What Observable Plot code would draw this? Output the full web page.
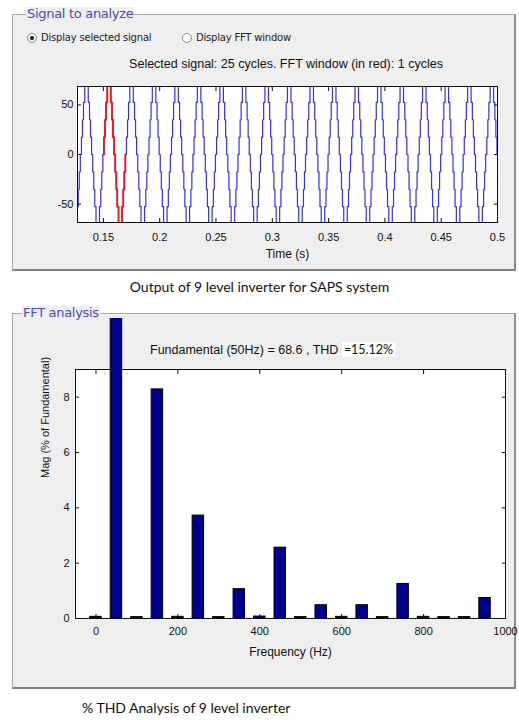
<!DOCTYPE html>
<html>
<head>
<meta charset="utf-8">
<script src="https://cdn.jsdelivr.net/npm/d3@7"></script>
<script src="https://cdn.jsdelivr.net/npm/@observablehq/plot@0.6"></script>
<style>
  html, body { margin: 0; padding: 0; background: #fff; }
  #root { position: relative; width: 519px; height: 720px; overflow: hidden; font-family: "Liberation Sans", Arial, sans-serif; color: #111; }
  .panel { position: absolute; background: #efefef; border-left: 1px solid #a8a8a8; border-top: 1px solid #a8a8a8; border-right: 2px solid #8c8c8c; border-bottom: 2px solid #808080; box-sizing: border-box; }
  .ptitle { position: absolute; background: #efefef; color: #4a4ac4; font-size: 13px; line-height: 14px; padding: 0 1px; font-family: "DejaVu Sans", sans-serif; letter-spacing: -0.3px; }
  .radio { position: absolute; width: 10px; height: 10px; border-radius: 50%; border: 1px solid #8a8a8a; background: #fff; box-sizing: border-box; }
  .radio.on::after { content: ""; position: absolute; left: 2px; top: 2px; width: 4px; height: 4px; border-radius: 50%; background: #111; }
  .rlabel { position: absolute; font-size: 10px; line-height: 12px; color: #222; font-family: "DejaVu Sans", sans-serif; letter-spacing: -0.2px; }
  .txt { position: absolute; white-space: nowrap; }
  .cap { position: absolute; white-space: nowrap; font-family: Lato, "Open Sans", sans-serif; font-size: 14px; color: #111; }
  .plotwrap { position: absolute; left: 0; overflow: hidden; }
</style>
</head>
<body>
<div id="root">
  <div class="panel" style="left:12px; top:14px; width:504px; height:257px;"></div>
  <div class="ptitle" style="left:26px; top:7px;">Signal to analyze</div>
  <div class="radio on" style="left:27px; top:33px;"></div>
  <div class="rlabel" style="left:41px; top:32px;">Display selected signal</div>
  <div class="radio" style="left:182px; top:33px;"></div>
  <div class="rlabel" style="left:196px; top:32px;">Display FFT window</div>
  <div class="txt" id="sub1" style="left:0; width:572px; text-align:center; top:57px; font-size:12.5px;"></div>

  <div id="plot1" class="plotwrap" style="top:76px; width:519px; height:194px;"></div>

  <div class="cap" id="cap1" style="left:0; width:519px; text-align:center; top:278px;"></div>

  <div class="panel" style="left:12px; top:313px; width:504px; height:376px;"></div>
  <div class="ptitle" style="left:22px; top:306px;">FFT analysis</div>

  <div id="plot2" class="plotwrap" style="top:318px; width:519px; height:352px;"></div>

  <div class="txt" style="left:150px; top:342px; font-size:12.5px;"><span id="fundText"></span><span id="thdText" style="font-family: Lato, 'Open Sans', sans-serif; font-size:12.5px; background:#fff; padding:0 2px;"></span></div>

  <div class="cap" id="cap2" style="left:82px; top:699px;"></div>
</div>
<script>
// ---------- Data: time signal ----------
const signalTitle = "Selected signal: 25 cycles. FFT window (in red): 1 cycles";
const period = 0.02; // 50 Hz
const cycleStarts = [0.11, 0.13, 0.15, 0.17, 0.19, 0.21, 0.23, 0.25, 0.27, 0.29,
                     0.31, 0.33, 0.35, 0.37, 0.39, 0.41, 0.43, 0.45, 0.47, 0.49];
// one cycle of the 9-level staircase: switching phase (deg) and level
const stepDeg   = [0, 9, 26, 42, 62, 118, 138, 154, 171, 189, 206, 222, 242, 298, 318, 334, 351];
const stepLevel = [0, 17.5, 35, 52.5, 70, 52.5, 35, 17.5, 0, -17.5, -35, -52.5, -70, -52.5, -35, -17.5, 0];
const fftWindow = [0.15, 0.17];
const timeDomain = [0.127, 0.5];
const ampDomain = [-68.5, 68.5];
const timeTicks = [0.15, 0.2, 0.25, 0.3, 0.35, 0.4, 0.45, 0.5];
const timeTickLabels = ["0.15", "0.2", "0.25", "0.3", "0.35", "0.4", "0.45", "0.5"];
const ampTicks = [-50, 0, 50];
const ampTickLabels = ["-50", "0", "50"];

// ---------- Data: FFT ----------
const freqs = [0, 50, 100, 150, 200, 250, 300, 350, 400, 450, 500, 550, 600, 650, 700, 750, 800, 850, 900, 950];
const mags  = [0.06, 100, 0.05, 8.28, 0.06, 3.72, 0.05, 1.06, 0.07, 2.56, 0.05, 0.48, 0.06, 0.48, 0.05, 1.25, 0.06, 0.05, 0.05, 0.74];
const fftTitle = "Fundamental (50Hz) = 68.6 , THD ";
const thdLabel = "=15.12%";
const freqTicks = [0, 200, 400, 600, 800, 1000];
const freqTickLabels = ["0", "200", "400", "600", "800", "1000"];
const magTicks = [0, 2, 4, 6, 8];
const magTickLabels = ["0", "2", "4", "6", "8"];

const caption1 = "Output of 9 level inverter for SAPS system";
const caption2 = "% THD Analysis of 9 level inverter";

document.getElementById("sub1").textContent = signalTitle;
document.getElementById("fundText").textContent = fftTitle;
document.getElementById("thdText").textContent = thdLabel;
document.getElementById("cap1").textContent = caption1;
document.getElementById("cap2").textContent = caption2;

// build staircase points
const signal = [];
for (const c of cycleStarts) {
  stepDeg.forEach((deg, i) => signal.push({t: c + deg / 360 * period, v: stepLevel[i]}));
}
signal.push({t: cycleStarts[cycleStarts.length - 1] + period, v: 0});
const windowSig = signal.filter(d => d.t >= fftWindow[0] - 1e-9 && d.t < fftWindow[1] - 1e-9);
windowSig.push({t: fftWindow[1], v: 0});

const fmtMap = (vals, labels) => { const m = new Map(vals.map((v, i) => [v, labels[i]])); return d => m.get(d) ?? ""; };
const blank = () => "";
const axisFont = {fontFamily: "'Liberation Sans', Arial, sans-serif", fontSize: "11px"};

const plot1 = Plot.plot({
  width: 519, height: 194,
  marginTop: 10, marginLeft: 77, marginRight: 22, marginBottom: 48,
  style: {background: "transparent", ...axisFont, color: "#111"},
  x: {domain: timeDomain, label: null},
  y: {domain: ampDomain, label: null},
  marks: [
    Plot.frame({fill: "white", stroke: null}),
    Plot.line(signal, {x: "t", y: "v", curve: "step-after", stroke: "#2f2fff", strokeWidth: 1.2, clip: true}),
    Plot.line(windowSig, {x: "t", y: "v", curve: "step-after", stroke: "#ff1010", strokeWidth: 1.8, clip: true}),
    Plot.frame({stroke: "#111", strokeWidth: 1}),
    Plot.axisX(timeTicks, {anchor: "bottom", tickSize: -4, tickFormat: blank, label: null}),
    Plot.axisX(timeTicks, {anchor: "top", tickSize: -4, tickFormat: blank, label: null}),
    Plot.axisY(ampTicks, {anchor: "left", tickSize: -4, tickFormat: blank, label: null}),
    Plot.axisY(ampTicks, {anchor: "right", tickSize: -4, tickFormat: blank, label: null}),
    Plot.axisX(timeTicks, {anchor: "bottom", tickSize: 0, tickPadding: 11, tickFormat: fmtMap(timeTicks, timeTickLabels), label: null}),
    Plot.axisY(ampTicks, {anchor: "left", tickSize: 0, tickPadding: 4, tickFormat: fmtMap(ampTicks, ampTickLabels), label: null}),
    Plot.text(["Time (s)"], {frameAnchor: "bottom", dy: 35, text: d => d, fontSize: 12})
  ]
});
document.getElementById("plot1").appendChild(plot1);

const fft = freqs.map((f, i) => ({f, mag: mags[i]}));
const barHalf = 14;
const plot2 = Plot.plot({
  width: 519, height: 350,
  marginTop: 51, marginLeft: 75, marginRight: 14, marginBottom: 50,
  style: {background: "transparent", ...axisFont, color: "#111"},
  x: {domain: [-50, 1000], label: null},
  y: {domain: [0, 9], label: null},
  marks: [
    Plot.frame({fill: "white", stroke: null}),
    Plot.rectY(fft, {x1: d => d.f - barHalf, x2: d => d.f + barHalf, y1: 0, y2: "mag", fill: "#00008f", stroke: "#000", strokeWidth: 1}),
    Plot.frame({stroke: "#111", strokeWidth: 1}),
    Plot.axisX(freqTicks, {anchor: "bottom", tickSize: -4, tickFormat: blank, label: null}),
    Plot.axisX(freqTicks, {anchor: "top", tickSize: -4, tickFormat: blank, label: null}),
    Plot.axisY(magTicks, {anchor: "left", tickSize: -4, tickFormat: blank, label: null}),
    Plot.axisY(magTicks, {anchor: "right", tickSize: -4, tickFormat: blank, label: null}),
    Plot.axisX(freqTicks, {anchor: "bottom", tickSize: 0, tickPadding: 9, tickFormat: fmtMap(freqTicks, freqTickLabels), label: null}),
    Plot.axisY(magTicks, {anchor: "left", tickSize: 0, tickPadding: 6, tickFormat: fmtMap(magTicks, magTickLabels), label: null}),
    Plot.text(["Frequency (Hz)"], {frameAnchor: "bottom", dy: 37, text: d => d, fontSize: 12}),
    Plot.text(["Mag (% of Fundamental)"], {frameAnchor: "left", dx: -30, dy: -16, rotate: -90, text: d => d, fontSize: 11})
  ]
});
document.getElementById("plot2").appendChild(plot2);
</script>
</body>
</html>
